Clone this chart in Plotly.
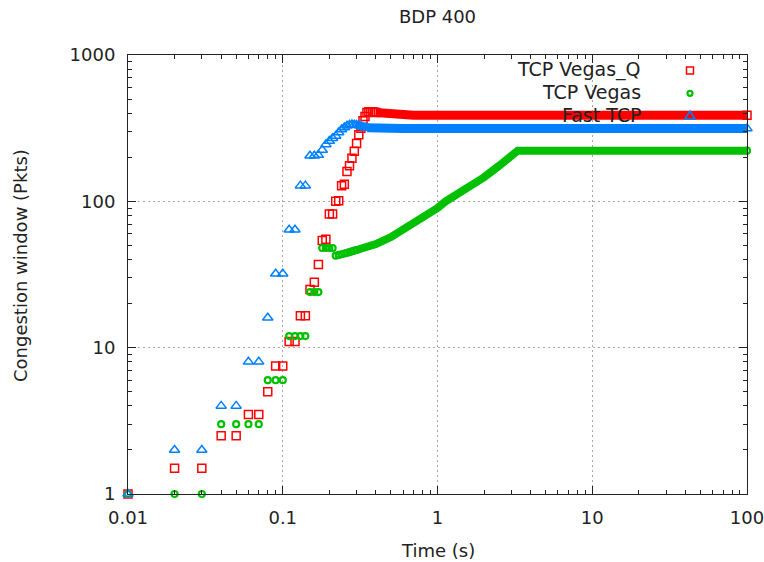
import plotly.graph_objects as go

# ---------------- data ----------------
vq_t = [0.01, 0.02, 0.03, 0.04, 0.05, 0.06, 0.07, 0.08, 0.09, 0.10,
        0.11, 0.12, 0.13, 0.14, 0.15, 0.16, 0.17, 0.18, 0.19, 0.20,
        0.21, 0.22, 0.23, 0.24, 0.25, 0.26, 0.27, 0.28, 0.29, 0.30,
        0.31, 0.32, 0.33, 0.34, 0.35, 0.36, 0.37, 0.38, 0.39, 0.40]
vq_v = [1, 1.5, 1.5, 2.5, 2.5, 3.5, 3.5, 5, 7.5, 7.5,
        11, 11, 16.5, 16.5, 25, 28, 37, 54, 55, 82,
        82, 100, 101, 128, 131, 160, 175, 197, 220, 248,
        285, 316, 356, 380, 405, 410, 410, 409, 407, 405]
vq_band_t = [0.40, 0.45, 0.5, 0.6, 0.7, 1.0, 100]
vq_band_v = [405, 400, 395, 390, 388, 388, 388]

vg_t = [0.01, 0.02, 0.03, 0.04, 0.05, 0.06, 0.07, 0.08, 0.09, 0.10,
        0.11, 0.12, 0.13, 0.14, 0.15, 0.16, 0.17, 0.18, 0.19, 0.20,
        0.21, 0.22, 0.23, 0.24, 0.25, 0.26, 0.27, 0.28, 0.29, 0.30]
vg_v = [1, 1, 1, 3, 3, 3, 3, 6, 6, 6,
        12, 12, 12, 12, 24, 24, 24, 48, 48, 48,
        48, 42.5, 43, 43.5, 44, 44.5, 45, 45.5, 46, 46.5]
vg_band_t = [0.30, 0.4, 0.5, 0.7, 1.0, 1.13, 1.5, 2.0, 2.5, 3.0, 3.3, 100]
vg_band_v = [46.5, 51, 57, 70, 90, 100, 120, 146, 175, 205, 222, 222]

ft_t = [0.01, 0.02, 0.03, 0.04, 0.05, 0.06, 0.07, 0.08, 0.09, 0.10,
        0.11, 0.12, 0.13, 0.14, 0.15, 0.16, 0.17, 0.18, 0.19, 0.20,
        0.21, 0.22, 0.23, 0.24, 0.25, 0.26, 0.27, 0.28, 0.29, 0.30,
        0.31, 0.32, 0.33, 0.34, 0.35]
ft_v = [1, 2, 2, 4, 4, 8, 8, 16, 32, 32,
        64, 64, 128, 128, 205, 205, 207, 224, 245, 258,
        270, 280, 295, 310, 320, 328, 333, 335, 334, 332,
        330, 326, 322, 320, 318]
ft_band_t = [0.35, 0.45, 0.6, 100]
ft_band_v = [318, 316, 315, 315]

series_names = ["TCP Vegas_Q", "TCP Vegas", "Fast TCP"]
x_tick_vals = [0.01, 0.1, 1, 10, 100]
x_tick_text = ["0.01", "0.1", "1", "10", "100"]
y_tick_vals = [1, 10, 100, 1000]
y_tick_text = ["1", "10", "100", "1000"]

# ---------------- styling ----------------
RED = "#ff0000"
GREEN = "#00c000"
BLUE = "#0080ff"
FONT = "DejaVu Sans"
TXT = "#222222"

W, H = 764, 562
L, R, T, B = 128, 17, 55, 68
PW, PH = W - L - R, H - T - B


def px(xp):
    return (xp - L) / PW


def py(yp):
    return (H - B - yp) / PH


x_minor = [m * 10.0 ** e for e in range(-2, 2) for m in range(2, 10)]
y_minor = [m * 10.0 ** e for e in range(0, 3) for m in range(2, 10)]

fig = go.Figure()

specs = [
    (vq_t, vq_v, vq_band_t, vq_band_v, RED, "square-open", 8, 9, 1.5),
    (vg_t, vg_v, vg_band_t, vg_band_v, GREEN, "circle-open", 6, 8, 2.2),
    (ft_t, ft_v, ft_band_t, ft_band_v, BLUE, "triangle-up-open", 9, 9, 1.5),
]
for name, (t, v, bt, bv, col, sym, msz, bw, lw) in zip(series_names, specs):
    fig.add_trace(go.Scatter(
        x=bt, y=bv, mode="lines", name=name, showlegend=False,
        line=dict(color=col, width=bw), hoverinfo="skip"))
    fig.add_trace(go.Scatter(
        x=t + [bt[-1]], y=v + [bv[-1]], mode="markers", name=name,
        showlegend=False, cliponaxis=False,
        marker=dict(symbol=sym, size=msz, color=col,
                    line=dict(color=col, width=lw))))

axis_common = dict(
    type="log", showline=True, linecolor=TXT, linewidth=1, mirror="ticks",
    ticks="inside", ticklen=8, tickcolor=TXT, tickwidth=1,
    showgrid=True, gridcolor="#a8a8a8", gridwidth=1, griddash="2px,3px",
    zeroline=False, tickmode="array", ticklabeloverflow="allow",
    automargin=False,
    tickfont=dict(family=FONT, size=18, color=TXT),
)
fig.update_xaxes(**axis_common, range=[-2, 2], tickvals=x_tick_vals,
                 ticktext=x_tick_text, ticklabelstandoff=7,
                 minor=dict(tickvals=x_minor, ticks="inside", ticklen=4,
                            tickcolor=TXT, showgrid=False))
fig.update_yaxes(**axis_common, range=[0, 3], tickvals=y_tick_vals,
                 ticktext=y_tick_text, ticklabelstandoff=8,
                 minor=dict(tickvals=y_minor, ticks="inside", ticklen=4,
                            tickcolor=TXT, showgrid=False))

annotations = [
    dict(text="Time (s)", x=0.5, y=py(550), xref="paper", yref="paper",
         showarrow=False, font=dict(family=FONT, size=18, color=TXT),
         xanchor="center", yanchor="middle"),
    dict(text="Congestion window (Pkts)", x=px(20), y=py(265),
         xref="paper", yref="paper", textangle=-90, showarrow=False,
         font=dict(family=FONT, size=18, color=TXT),
         xanchor="center", yanchor="middle"),
]
leg_y = [69.5, 92.5, 114.5]
for name, yy in zip(series_names, leg_y):
    annotations.append(dict(
        text=name, x=px(643), y=py(yy), xref="paper", yref="paper",
        showarrow=False, xanchor="right", yanchor="middle",
        font=dict(family=FONT, size=19, color=TXT)))

shapes = [
    dict(type="rect", xref="paper", yref="paper",
         x0=px(686.5), x1=px(693.5), y0=py(74), y1=py(67),
         line=dict(color=RED, width=1.5)),
    dict(type="circle", xref="paper", yref="paper",
         x0=px(687.5), x1=px(692.5), y0=py(95.8), y1=py(90.8),
         line=dict(color=GREEN, width=2.2)),
    dict(type="path", xref="paper", yref="paper",
         path="M {a},{b} L {c},{d} L {e},{f} Z".format(
             a=px(685), b=py(119), c=px(695), d=py(119),
             e=px(690), f=py(111)),
         line=dict(color=BLUE, width=1.5)),
]

fig.update_layout(
    width=W, height=H,
    margin=dict(l=L, r=R, t=T, b=B, autoexpand=False),
    paper_bgcolor="white", plot_bgcolor="white",
    font=dict(family=FONT, color=TXT),
    title=dict(text="BDP 400", x=0.5, xref="paper", y=1 - 17 / H,
               yref="container", xanchor="center", yanchor="middle",
               font=dict(family=FONT, size=18, color=TXT)),
    showlegend=False,
    annotations=annotations,
    shapes=shapes,
)

fig.write_html("out.html")
